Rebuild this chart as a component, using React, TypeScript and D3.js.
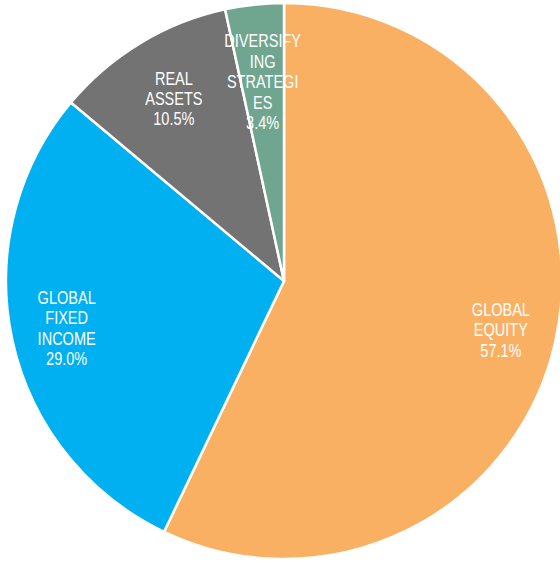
import React from "react";
import * as d3 from "d3";

const categories = ["GLOBAL EQUITY", "GLOBAL FIXED INCOME", "REAL ASSETS", "DIVERSIFYING STRATEGIES"];
const values = [57.1, 29.0, 10.5, 3.4];
const labelLines = [
  ["GLOBAL", "EQUITY"],
  ["GLOBAL", "FIXED", "INCOME"],
  ["REAL", "ASSETS"],
  ["DIVERSIFY", "ING", "STRATEGI", "ES"],
];
const colors = ["#FAB062", "#00B0F0", "#737373", "#70A690"];
const labelRadius = [0.8, 0.8, 0.766, 0.72];

const W = 560;
const H = 563;
const cx = 284;
const cy = 281;
const R = 278;
const fontSize = 17.5;
const lineH = 20.4;
const sx = 0.83;

export default function App() {
  const data = categories.map((c, i) => ({ c, v: values[i], i }));
  const pie = d3.pie<any>().sort(null).value((d: any) => d.v);
  const arcs = pie(data);
  const arc = d3.arc<any>().innerRadius(0).outerRadius(R);

  return (
    <svg
      width={W}
      height={H}
      style={{ position: "absolute", left: 0, top: 0, background: "#fff" }}
    >
      <g transform={`translate(${cx},${cy})`}>
        {arcs.map((a, i) => (
          <path key={i} d={arc(a) as string} fill={colors[i]} stroke="#fff" strokeWidth={2.5} strokeLinejoin="round" />
        ))}
        {arcs.map((a, i) => {
          const rr = R * labelRadius[i];
          const [lx, ly] = d3.arc<any>().innerRadius(rr).outerRadius(rr).centroid(a);
          const lines = [...labelLines[i], `${values[i].toFixed(1)}%`];
          const n = lines.length;
          const firstBaseline = ly - ((n - 1) * lineH) / 2 + fontSize * 0.716 / 2;
          return (
            <g key={"l" + i} transform={`translate(${lx},0) scale(${sx},1)`}>
              {lines.map((t, k) => (
                <text
                  key={k}
                  x={0}
                  y={firstBaseline + k * lineH}
                  textAnchor="middle"
                  fill="#fff"
                  fontFamily="'Liberation Sans', Arial, sans-serif"
                  fontSize={fontSize}
                >
                  {t}
                </text>
              ))}
            </g>
          );
        })}
      </g>
    </svg>
  );
}
